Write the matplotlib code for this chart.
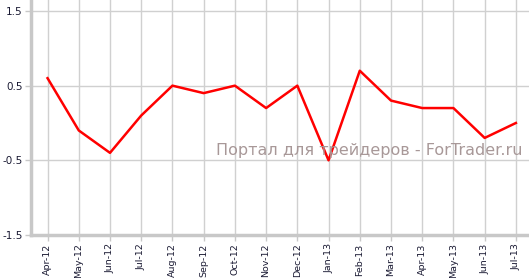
import matplotlib
matplotlib.use("Agg")
import matplotlib.pyplot as plt

months = ["Apr-12", "May-12", "Jun-12", "Jul-12", "Aug-12", "Sep-12", "Oct-12", "Nov-12",
          "Dec-12", "Jan-13", "Feb-13", "Mar-13", "Apr-13", "May-13", "Jun-13", "Jul-13"]
values = [0.6, -0.1, -0.4, 0.1, 0.5, 0.4, 0.5, 0.2, 0.5, -0.5, 0.7, 0.3, 0.2, 0.2, -0.2, 0.0]
yticks = [-1.5, -0.5, 0.5, 1.5]

fig = plt.figure(figsize=(5.29, 2.78), dpi=100)
ax = fig.add_axes([31/529, 43/278, 1 - 31/529, 1 - 43/278])
x = list(range(len(months)))
ax.plot(x, values, color="#ff0000", lw=1.8, zorder=3)
ax.set_xlim(-0.53, 15.42)
ax.set_ylim(-1.5, 1.647)
ax.set_yticks(yticks)
ax.set_yticklabels(["-1.5", "-0.5", "0.5", "1.5"], fontsize=7.5, color="#1a1a33", family="DejaVu Sans")
ax.set_xticks(x)
ax.set_xticklabels(months, rotation=90, fontsize=6.8, color="#1a1a33")
ax.grid(True, color="#d0d0d0", lw=1.0)
ax.set_axisbelow(True)
for s in ["top", "right"]:
    ax.spines[s].set_visible(False)
for s in ["left", "bottom"]:
    ax.spines[s].set_color("#c8c8c8")
    ax.spines[s].set_linewidth(2.5)
ax.tick_params(axis="both", length=4, color="#c8c8c8", width=1, pad=2)
ax.tick_params(axis="x", pad=2)
ax.text(522/529, (278-150)/278, "Портал для трейдеров - ForTrader.ru", transform=fig.transFigure,
        ha="right", va="center", fontsize=11.5, color="#a89898", family="DejaVu Sans", zorder=4)
fig.savefig("out.png", dpi=100)
